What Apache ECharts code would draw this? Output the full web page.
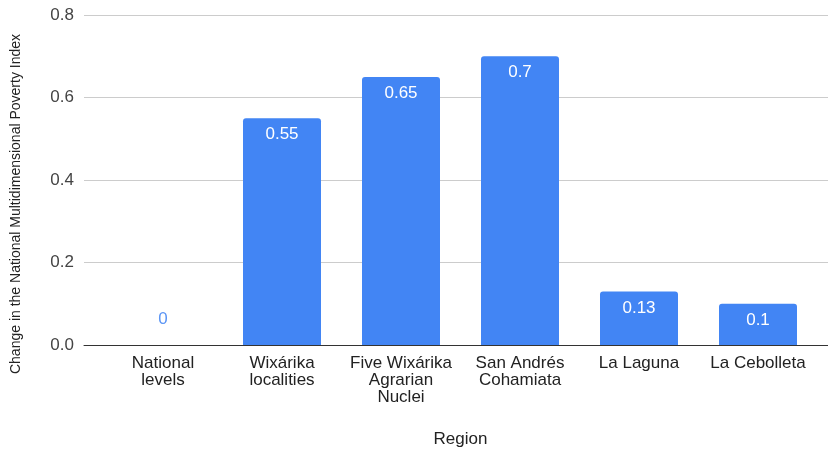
<!DOCTYPE html>
<html>
<head>
<meta charset="utf-8">
<script src="https://cdn.jsdelivr.net/npm/echarts@6/dist/echarts.min.js"></script>
<style>html,body{margin:0;padding:0;background:#fff}#c{width:828px;height:451px}</style>
</head>
<body>
<div id="c"></div>
<script>
const categories = ['National\nlevels', 'Wixárika\nlocalities', 'Five Wixárika\nAgrarian\nNuclei', 'San Andrés\nCohamiata', 'La Laguna', 'La Cebolleta'];
const values = [0, 0.55, 0.65, 0.7, 0.13, 0.1];
const yTicks = [0, 0.2, 0.4, 0.6, 0.8];
const yTitle = 'Change in the National Multidimensional Poverty Index';
const xTitle = 'Region';

const BLUE = '#4285F4';
const chart = echarts.init(document.getElementById('c'), null, {renderer: 'canvas'});
const font = 'Arial, "Liberation Sans", sans-serif';

chart.setOption({
  animation: false,
  grid: [
    {left: 84, right: 0, top: 15, bottom: 106, outerBoundsMode: 'none', containLabel: false},
    {left: 103.5, right: 10.5, top: 15, bottom: 106, outerBoundsMode: 'none', containLabel: false}
  ],
  graphic: [{
    type: 'text', x: 16.5, y: 204, rotation: Math.PI / 2,
    style: {text: yTitle, fill: '#222', font: '14px ' + font, align: 'center', verticalAlign: 'middle'}
  }],
  xAxis: [
    {gridIndex: 0, type: 'value', min: 0, max: 1, show: true,
      axisLine: {show: true, lineStyle: {color: '#333', width: 1}},
      axisTick: {show: false}, axisLabel: {show: false}, splitLine: {show: false}},
    {gridIndex: 1, type: 'category', data: categories,
      axisLine: {show: false}, axisTick: {show: false},
      axisLabel: {color: '#222', fontSize: 17, fontFamily: font, margin: 10, lineHeight: 17, interval: 0},
      name: xTitle, nameLocation: 'middle', nameGap: 86,
      nameTextStyle: {color: '#222', fontSize: 17, fontFamily: font}}
  ],
  yAxis: [
    {gridIndex: 0, type: 'value', min: yTicks[0], max: yTicks[yTicks.length - 1], interval: 0.2,
      axisLine: {show: false}, axisTick: {show: false},
      axisLabel: {color: '#444', fontSize: 17, fontFamily: font, margin: 10, formatter: v => v.toFixed(1)},
      splitLine: {lineStyle: {color: '#ccc', width: 1}}},
    {gridIndex: 1, type: 'value', min: yTicks[0], max: yTicks[yTicks.length - 1], show: false}
  ],
  series: [{
    type: 'bar',
    xAxisIndex: 1, yAxisIndex: 1,
    barWidth: 78,
    itemStyle: {color: BLUE, borderRadius: [3, 3, 0, 0]},
    data: values.map(v => v === 0 ? {
      value: v,
      label: {position: 'top', distance: 17, color: '#5b95f5'}
    } : v),
    label: {
      show: true, position: 'insideTop', distance: 8,
      color: '#fff', fontSize: 17, fontFamily: font,
      formatter: p => String(p.value)
    }
  }]
});
</script>
</body>
</html>
